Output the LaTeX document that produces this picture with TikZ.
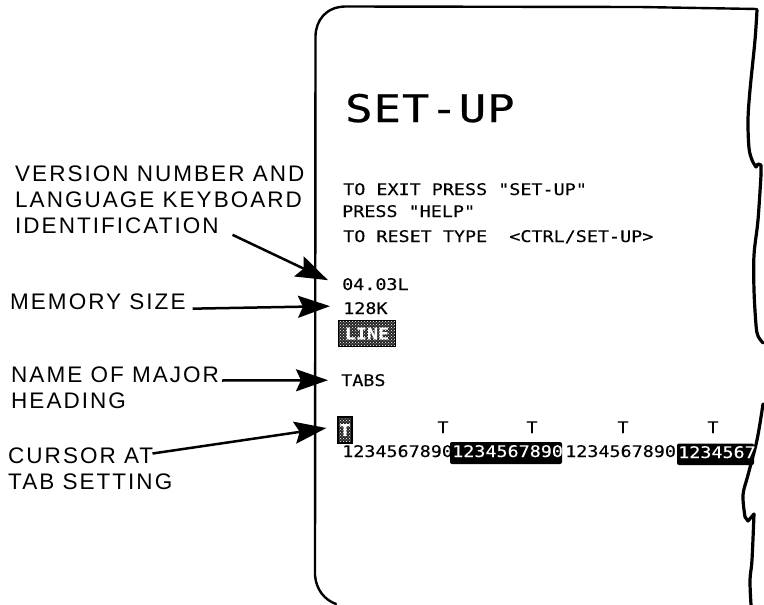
\documentclass[tikz,border=0pt]{standalone}
\usepackage{fontspec}
\usetikzlibrary{arrows.meta,calc,patterns}
\newfontfamily\lblfont[LetterSpace=9]{Liberation Sans}
\newfontfamily\termfont[FakeStretch=1.15,FakeBold=0.3]{DejaVu Sans Mono}
\newfontfamily\titlefont[FakeStretch=1.2,FakeBold=0.5,LetterSpace=2.5]{DejaVu Sans Mono}
\tikzset{
  lbl/.style={anchor=north west,inner sep=0pt,align=left,font=\lblfont\fontsize{22.5}{26}\selectfont},
  term/.style={anchor=base west,inner sep=0pt,text=black,font=\termfont\fontsize{16}{18}\selectfont},
  bar/.style={term,text=white},
  dither/.style={draw=black,inner sep=0pt,text=white,preaction={fill=black!85},pattern=crosshatch dots,pattern color=white},
  callout/.style={draw=black,line width=2.5pt,-{Stealth[length=32pt,width=22pt,inset=5pt]}},
  edge/.style={draw=black,line width=3.2pt,line cap=round,line join=round},
}
\begin{document}
\begin{tikzpicture}[x=1pt,y=-1pt]
\useasboundingbox (0,0) rectangle (764,605);
% terminal outline
\draw[edge,line width=2.4pt] (757,9) -- (640,7) -- (345,6.5) .. controls (326,7) and (316,20) .. (315.5,36) -- (315,575) .. controls (316,590) and (325,600) .. (336,604);
\draw[edge] plot[smooth,tension=0.55] coordinates {(757,10) (755,40) (750,90) (748,120) (749,148) (752,160) (756,167)};
\draw[edge] (756,167) -- (758,164) -- (761,165) -- (761,175);
\draw[edge] plot[smooth,tension=0.55] coordinates {(761,175) (758,220) (754,255) (754,290) (756,325) (758,336) (763,343)};
\draw[edge] plot[smooth,tension=0.55] coordinates {(763,404) (757,440) (748,475) (743,495) (745,517)};
\draw[edge] (745,517) -- (748,521) -- (754,514);
\draw[edge] plot[smooth,tension=0.55] coordinates {(754,514) (752,560) (750,580) (751,605)};
% screen text
\node[anchor=base west,inner sep=0pt,font=\titlefont\fontsize{38}{40}\selectfont] (title) at (345,122) {SET-UP};
\node[term] (exit) at (343,195) {TO EXIT PRESS "SET-UP"};
\node[term] (help) at (342,217) {PRESS "HELP"};
\node[term] (reset) at (343,242) {TO RESET TYPE~~<CTRL/SET-UP>};
\node[term] (ver) at (342,290) {04.03L};
\node[term] (mem) at (343,314) {128K};
\node[dither,line width=1.5pt,minimum width=57pt,minimum height=26pt,font=\termfont\fontsize{16}{18}\bfseries\selectfont] (line) at (367,333.5) {LINE};
\node[term] (tabs) at (341,386) {TABS};
% tab ruler
\node[dither,line width=1.2pt,minimum width=14pt,minimum height=26pt,font=\termfont\fontsize{16}{18}\bfseries\selectfont] (cur) at (345,430) {T};
\node[term,anchor=base] (t1) at (443,433) {T};
\node[term,anchor=base] (t2) at (532,433) {T};
\node[term,anchor=base] (t3) at (623,433) {T};
\node[term,anchor=base] (t4) at (713,433) {T};
\fill[black,rounded corners=2pt] (450,442) rectangle (562,464);
\fill[black,rounded corners=2pt] (677,443.5) rectangle (754,465);
\node[term] (r1) at (342,457) {1234567890};
\node[bar] (r2) at (452,457) {1234567890};
\node[term] (r3) at (565,457) {1234567890};
\node[bar] (r4) at (678,458) {1234567};
% labels
\node[lbl] (a) at (15,165.5) {VERSION NUMBER AND\\LANGUAGE KEYBOARD\\IDENTIFICATION};
\node[lbl] (b) at (10,293.5) {MEMORY SIZE};
\node[lbl] (c) at (11,366.5) {NAME OF MAJOR\\HEADING};
\node[lbl] (d) at (8,447.5) {CURSOR AT\\TAB SETTING};
% callouts
\draw[callout] ([shift={(-72pt,-1pt)}]a.south east) -- ([shift={(-14pt,4pt)}]ver.west);
\draw[callout] ([xshift=7pt,yshift=-7pt]b.east) -- ([xshift=-13pt,yshift=2pt]mem.west);
\draw[callout] ([xshift=3pt,yshift=-14pt]c.north east) -- ([xshift=-13pt]tabs.west);
\draw[callout] ([xshift=-20pt,yshift=-6pt]d.north east) -- ([xshift=-11pt,yshift=2pt]cur.west);
\end{tikzpicture}
\end{document}
